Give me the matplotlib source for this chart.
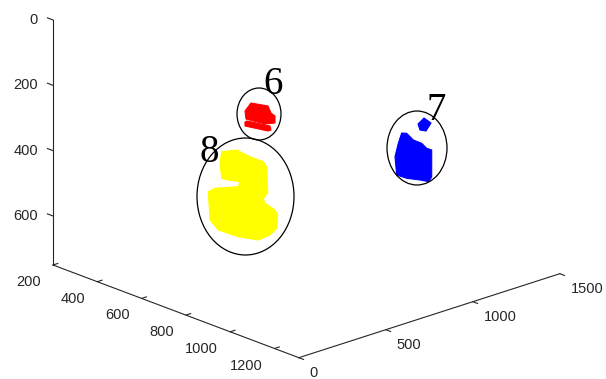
import matplotlib
matplotlib.use("Agg")
import matplotlib.pyplot as plt
import numpy as np
from matplotlib.patches import Polygon, Ellipse

# ---- axis tick values -------------------------------------------------
z_ticks = [0, 200, 400, 600]
y_ticks = [200, 400, 600, 800, 1000, 1200]
x_ticks = [0, 500, 1000, 1500]
z_lim = (0, 750)
y_lim = (200, 1310)
x_lim = (0, 1500)

# ---- segmented regions (outlines in view-plane pixels) ------------------
region_ids = ["6", "8", "7"]
region_colors = ["#ff0000", "#ffff00", "#0000ff"]

red_top = [(245, 111), (251, 103), (268, 106), (271, 113), (275, 116),
           (275, 123), (265, 124), (246, 119)]
red_bar = [(245, 122), (247, 121), (270, 126), (271, 130), (268, 131), (245, 126)]
yellow = [(221.7, 151.7), (236.7, 150), (250, 156.7), (263.3, 161.7),
          (266.7, 166.7), (267.7, 193.3), (263.3, 198.3), (265, 203.3),
          (275, 210), (277.7, 215), (276.7, 228.3), (270, 235), (258.3, 240),
          (238.3, 236.7), (218.3, 230), (210, 220), (208.3, 191.7), (215, 188.3),
          (238.3, 186.7), (240, 181.7), (228.3, 180), (221.7, 178.3), (220, 163.3)]
blue_main = [(401.7, 133), (406.7, 133.3), (413.3, 140), (421.7, 143.3),
             (426.7, 148.3), (431.7, 150), (431.7, 176.7), (429, 181.7),
             (420, 180), (406.7, 178.3), (396.7, 175), (395, 156.7), (398.3, 143.3)]
blue_dot = [(418, 124), (424, 118), (431, 123), (426, 131), (420, 130)]
region_shapes = [[red_top, red_bar], [yellow], [blue_main, blue_dot]]

# enclosing ellipses (center, width, height) and label anchors
ring_centers = [(259, 114), (245.5, 196.5), (417, 148)]
ring_sizes = [(44, 52), (97, 117), (60, 74)]
label_points = [(273, 85), (209, 153), (436, 110)]

# ---- figure in view-plane pixel units -----------------------------------
W, H = 606, 379
fig = plt.figure(figsize=(W / 100, H / 100), dpi=100)
ax = fig.add_axes([0, 0, 1, 1])
ax.set_xlim(0, W)
ax.set_ylim(H, 0)
ax.axis("off")

# projection of the 3-D box onto the view plane
corner = np.array([53.0, 265.0])       # x=0, y=y_min, z=z_max
ex = np.array([0.174, -0.056])         # per unit x
ey = np.array([0.2215, 0.0835])        # per unit y
ez = np.array([0.0, -0.3267])          # per unit (z_max - z)


def proj(x, y, z):
    return corner + x * ex + (y - y_lim[0]) * ey + (z_lim[1] - z) * ez


axis_col = "#262626"
lw = 0.8
tick_font = dict(family="Liberation Sans", size=10.5, color=axis_col)

# z axis (vertical, reversed)
p0, p1 = proj(0, y_lim[0], z_lim[0]), proj(0, y_lim[0], z_lim[1])
ax.plot([p0[0], p1[0]], [p0[1], p1[1]], color=axis_col, lw=lw)
uy = ey / np.linalg.norm(ey)
ux = ex / np.linalg.norm(ex)
for z in z_ticks:
    p = proj(0, y_lim[0], z)
    q = p - 6 * uy
    ax.plot([p[0], q[0]], [p[1], q[1]], color=axis_col, lw=lw)
    ax.text(p[0] - 15, p[1], str(z), ha="right", va="center", **tick_font)

# y axis (front-left edge)
p0, p1 = proj(0, y_lim[0], z_lim[1]), proj(0, y_lim[1], z_lim[1])
ax.plot([p0[0], p1[0]], [p0[1], p1[1]], color=axis_col, lw=lw)
for y in y_ticks:
    p = proj(0, y, z_lim[1])
    q = p + 5 * ux
    ax.plot([p[0], q[0]], [p[1], q[1]], color=axis_col, lw=lw)
    ax.text(p[0] - 12, p[1] + 17, str(y), ha="right", va="center", **tick_font)

# x axis (front-right edge)
p0, p1 = proj(x_lim[0], y_lim[1], z_lim[1]), proj(x_lim[1], y_lim[1], z_lim[1])
ax.plot([p0[0], p1[0]], [p0[1], p1[1]], color=axis_col, lw=lw)
for x in x_ticks:
    p = proj(x, y_lim[1], z_lim[1])
    q = p + 5 * uy
    ax.plot([p[0], q[0]], [p[1], q[1]], color=axis_col, lw=lw)
    ax.text(p[0] + 11, p[1] + 15, str(x), ha="left", va="center", **tick_font)

# regions, rings and labels
for shapes, col, c, (w, h), lp, rid in zip(region_shapes, region_colors,
                                           ring_centers, ring_sizes,
                                           label_points, region_ids):
    for pts in shapes:
        ax.add_patch(Polygon(pts, closed=True, facecolor=col, edgecolor=col,
                             lw=0.8, joinstyle="round"))
    ax.add_patch(Ellipse(c, w, h, fill=False, edgecolor="black", lw=0.9))
    ax.text(lp[0], lp[1], rid, ha="center", va="center",
            family="Liberation Serif", size=28, color="black")

fig.savefig("out.png", dpi=100)
